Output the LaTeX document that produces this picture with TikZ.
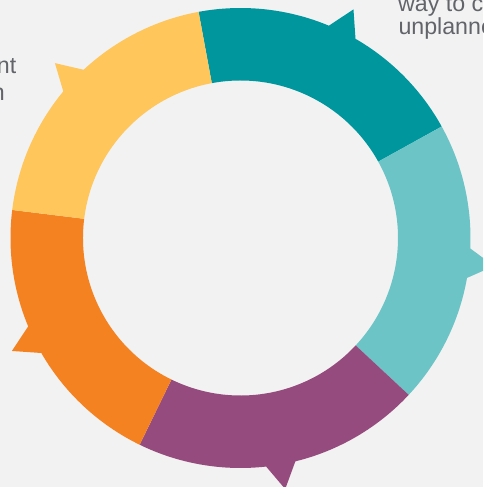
\documentclass[tikz,border=0pt]{standalone}
\usepackage{fontspec}
\setmainfont{Liberation Sans}
\definecolor{bgc}{HTML}{F2F2F2}
\definecolor{tealc}{HTML}{00969D}
\definecolor{lteal}{HTML}{6CC4C6}
\definecolor{purp}{HTML}{954B7E}
\definecolor{orng}{HTML}{F58220}
\definecolor{yell}{HTML}{FFC65C}
\definecolor{txtc}{HTML}{62646A}
\tikzset{
  lbl/.style={inner sep=0pt, text=txtc, font=\fontsize{23.2}{23.2}\selectfont},
}
% segment: #1 colour, #2 start angle, #3 end angle, #4 notch centre
\newcommand{\ringseg}[4]{%
  \fill[#1] (#2:230) arc[start angle=#2, end angle=#4+3.7, radius=230]
    -- (#4:255) -- (#4-3.7:230)
    arc[start angle=#4-3.7, end angle=#3, radius=230]
    -- (#3:157.5) arc[start angle=#3, end angle=#2, radius=157.5] -- cycle;}
\begin{document}
\begin{tikzpicture}[x=1pt,y=1pt]
\useasboundingbox (-240.5,-249) rectangle (242.5,238);
\clip (-240.5,-249) rectangle (242.5,238);
\fill[bgc] (-240.5,-249) rectangle (242.5,238);
\coordinate (c) at (0,0);
\ringseg{tealc}{100.5}{29}{63.7}
\ringseg{lteal}{29}{-43}{-6.3}
\ringseg{purp}{-43}{-116}{-79.9}
\ringseg{orng}{-116}{-187}{-153.7}
\ringseg{yell}{173}{100.5}{136.7}
\node[lbl, anchor=base west] (r1) at (157.5,226) {way to c};
\node[lbl, anchor=base west] (r2) at (157.8,203) {unplanne};
\node[lbl, anchor=base east] (l1) at (-224,164.7) {nt};
\node[lbl, anchor=base east] (l2) at (-235.5,137.5) {n};
\end{tikzpicture}
\end{document}
